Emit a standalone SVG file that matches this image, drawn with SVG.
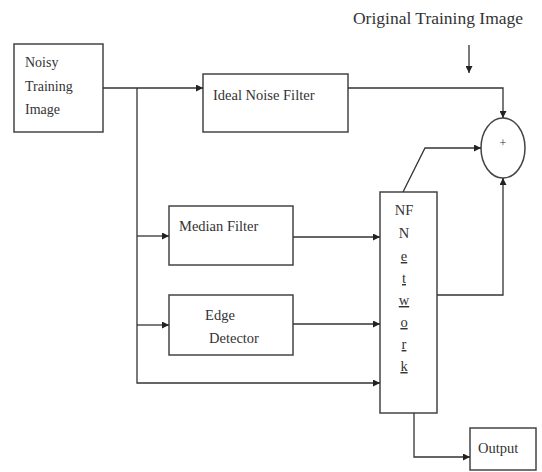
<svg xmlns="http://www.w3.org/2000/svg" width="542" height="472" viewBox="0 0 542 472">
<defs>
<marker id="ah" viewBox="0 0 10 10" refX="10" refY="5" markerWidth="7" markerHeight="7" markerUnits="userSpaceOnUse" orient="auto">
<path d="M0,0 L10,5 L0,10 z" fill="#222"/>
</marker>
<style>
.box{fill:#fff;stroke:#444;stroke-width:1.5}
.ln{fill:none;stroke:#333;stroke-width:1.3}
.t{font-family:"Liberation Serif","Times New Roman",serif;font-size:14.5px;fill:#333}
.u{text-decoration:underline}
</style>
</defs>
<rect width="542" height="472" fill="#fff"/>
<g id="noisy">
<rect class="box" x="14" y="44" width="89" height="88"/>
<text class="t" x="25" y="67" style="font-size:14px">Noisy</text>
<text class="t" x="25" y="91" style="font-size:14px">Training</text>
<text class="t" x="25" y="114" style="font-size:14px">Image</text>
</g>
<g id="original">
<text class="t" x="438" y="24" text-anchor="middle" style="font-size:17.5px">Original Training Image</text>
</g>
<g id="ideal">
<rect class="box" x="203" y="74" width="145" height="58"/>
<text class="t" x="213" y="100">Ideal Noise Filter</text>
</g>
<g id="median">
<rect class="box" x="169" y="206" width="124" height="59"/>
<text class="t" x="179" y="231">Median Filter</text>
</g>
<g id="edge">
<rect class="box" x="169" y="295" width="124" height="60"/>
<text class="t" x="220" y="320" text-anchor="middle">Edge</text>
<text class="t" x="234" y="343" text-anchor="middle">Detector</text>
</g>
<g id="nn">
<rect class="box" x="380" y="192" width="57" height="221"/>
<text class="t" x="404" y="215" text-anchor="middle">NF</text>
<text class="t" x="404" y="238" text-anchor="middle">N</text>
<text class="t u" x="404" y="261" text-anchor="middle">e</text>
<text class="t u" x="404" y="283" text-anchor="middle">t</text>
<text class="t u" x="404" y="305" text-anchor="middle">w</text>
<text class="t u" x="404" y="327" text-anchor="middle">o</text>
<text class="t u" x="404" y="349" text-anchor="middle">r</text>
<text class="t u" x="404" y="371" text-anchor="middle">k</text>
</g>
<g id="sum">
<ellipse class="box" cx="503" cy="148" rx="22" ry="30"/>
<text class="t" x="503" y="147" text-anchor="middle" style="font-size:12px">+</text>
</g>
<g id="output">
<rect class="box" x="470" y="428" width="66" height="42"/>
<text class="t" x="478" y="453">Output</text>
</g>
<g id="connectors">
<path class="ln" d="M103,88 H203" marker-end="url(#ah)"/>
<path class="ln" d="M137,88 V383 H380" marker-end="url(#ah)"/>
<path class="ln" d="M137,236 H169" marker-end="url(#ah)"/>
<path class="ln" d="M137,325 H169" marker-end="url(#ah)"/>
<path class="ln" d="M293,237 H380" marker-end="url(#ah)"/>
<path class="ln" d="M293,324 H380" marker-end="url(#ah)"/>
<path class="ln" d="M348,88 H503 V118" marker-end="url(#ah)"/>
<path class="ln" d="M469,45 V73" marker-end="url(#ah)"/>
<path class="ln" d="M403,192 L425,148 H481" marker-end="url(#ah)"/>
<path class="ln" d="M437,295 H503 V178" marker-end="url(#ah)"/>
<path class="ln" d="M414,413 V457 H470" marker-end="url(#ah)"/>
</g>
</svg>
